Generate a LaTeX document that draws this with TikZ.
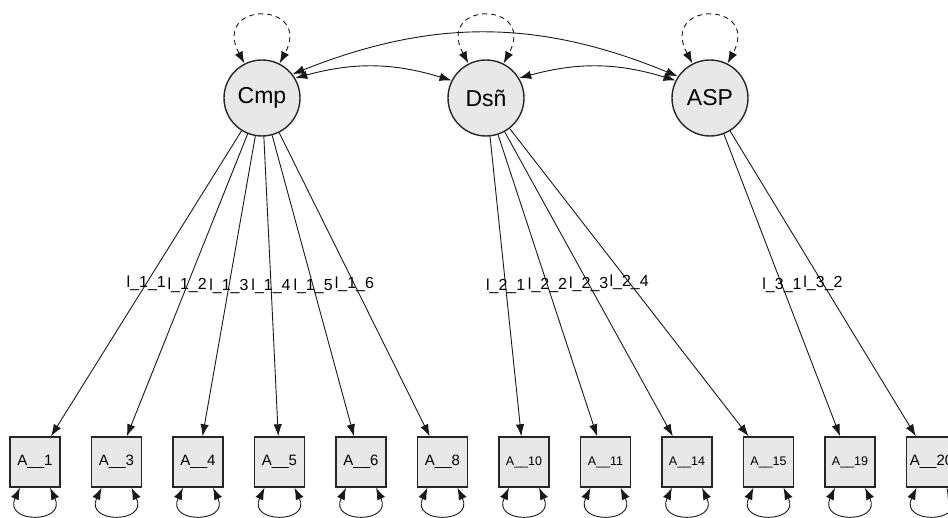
\documentclass[tikz,border=0pt]{standalone}
\usepackage{fontspec}
\setmainfont{Liberation Sans}
\usetikzlibrary{arrows.meta}
\begin{document}
\begin{tikzpicture}[x=1pt, y=1pt,
  latent/.style={circle, draw=black!85, line width=1.4pt, fill=black!9, minimum size=76pt, inner sep=0pt, font=\fontsize{23}{23}\selectfont},
  manifest/.style={rectangle, draw=black!85, line width=1.4pt, fill=black!9, minimum size=50pt, inner sep=0pt, font=\fontsize{15}{15}\selectfont},
  small/.style={font=\fontsize{12.5}{12.5}\selectfont},
  loading/.style={draw=black!90, line width=0.9pt, -{Latex[length=12pt,width=8.5pt]}},
  cov/.style={draw=black!90, line width=0.9pt, {Latex[length=12pt,width=8.5pt]}-{Latex[length=12pt,width=8.5pt]}},
  resid/.style={cov, dash pattern=on 5pt off 4pt},
  loadlabel/.style={font=\fontsize{16}{16}\selectfont, inner sep=0pt}]

\useasboundingbox (0,0) rectangle (948,-518);

\node[latent] (cmp) at (262,-98) {Cmp};
\node[latent] (dsn) at (486,-98) {Dsñ};
\node[latent] (asp) at (710,-98) {ASP};

\node[manifest] (a1) at (35,-462) {A\_\_1};
\node[manifest] (a3) at (116.5,-462) {A\_\_3};
\node[manifest] (a4) at (198,-462) {A\_\_4};
\node[manifest] (a5) at (279.5,-462) {A\_\_5};
\node[manifest] (a6) at (361,-462) {A\_\_6};
\node[manifest] (a8) at (442.5,-462) {A\_\_8};
\node[manifest, small] (a10) at (524,-462) {A\_\_10};
\node[manifest, small] (a11) at (605.5,-462) {A\_\_11};
\node[manifest, small] (a14) at (687,-462) {A\_\_14};
\node[manifest, small] (a15) at (768.5,-462) {A\_\_15};
\node[manifest, small] (a19) at (850,-462) {A\_\_19};
\node[manifest] (a20) at (931.5,-462) {A\_\_20};

% loadings
\draw[loading] (cmp) -- (a1) node[midway, loadlabel]{l\_1\_1};
\draw[loading] (cmp) -- (a3) node[midway, loadlabel]{l\_1\_2};
\draw[loading] (cmp) -- (a4) node[midway, loadlabel]{l\_1\_3};
\draw[loading] (cmp) -- (a5) node[midway, loadlabel]{l\_1\_4};
\draw[loading] (cmp) -- (a6) node[midway, loadlabel]{l\_1\_5};
\draw[loading] (cmp) -- (a8) node[midway, loadlabel]{l\_1\_6};
\draw[loading] (dsn) -- (a10) node[midway, loadlabel]{l\_2\_1};
\draw[loading] (dsn) -- (a11) node[midway, loadlabel]{l\_2\_2};
\draw[loading] (dsn) -- (a14) node[midway, loadlabel]{l\_2\_3};
\draw[loading] (dsn) -- (a15) node[midway, loadlabel]{l\_2\_4};
\draw[loading] (asp) -- (a19) node[midway, loadlabel]{l\_3\_1};
\draw[loading] (asp) -- (a20) node[midway, loadlabel]{l\_3\_2};

% covariances
\draw[cov] (cmp.31) to[bend left=16] (dsn.153);
\draw[cov] (dsn.31) to[bend left=16] (asp.153);
\draw[cov] (cmp.38) to[bend left=22] (asp.146);

% latent variances
\draw[resid] (cmp.117) to[out=118, in=62, looseness=5.2] (cmp.63);
\draw[resid] (dsn.117) to[out=118, in=62, looseness=5.2] (dsn.63);
\draw[resid] (asp.117) to[out=118, in=62, looseness=5.2] (asp.63);

% residual variances
\draw[cov] ([xshift=-15]a1.south) to[out=-115, in=-65, looseness=3.4] ([xshift=15]a1.south);
\draw[cov] ([xshift=-15]a3.south) to[out=-115, in=-65, looseness=3.4] ([xshift=15]a3.south);
\draw[cov] ([xshift=-15]a4.south) to[out=-115, in=-65, looseness=3.4] ([xshift=15]a4.south);
\draw[cov] ([xshift=-15]a5.south) to[out=-115, in=-65, looseness=3.4] ([xshift=15]a5.south);
\draw[cov] ([xshift=-15]a6.south) to[out=-115, in=-65, looseness=3.4] ([xshift=15]a6.south);
\draw[cov] ([xshift=-15]a8.south) to[out=-115, in=-65, looseness=3.4] ([xshift=15]a8.south);
\draw[cov] ([xshift=-15]a10.south) to[out=-115, in=-65, looseness=3.4] ([xshift=15]a10.south);
\draw[cov] ([xshift=-15]a11.south) to[out=-115, in=-65, looseness=3.4] ([xshift=15]a11.south);
\draw[cov] ([xshift=-15]a14.south) to[out=-115, in=-65, looseness=3.4] ([xshift=15]a14.south);
\draw[cov] ([xshift=-15]a15.south) to[out=-115, in=-65, looseness=3.4] ([xshift=15]a15.south);
\draw[cov] ([xshift=-15]a19.south) to[out=-115, in=-65, looseness=3.4] ([xshift=15]a19.south);
\draw[cov] ([xshift=-15]a20.south) to[out=-115, in=-65, looseness=3.4] ([xshift=15]a20.south);

\end{tikzpicture}
\end{document}
